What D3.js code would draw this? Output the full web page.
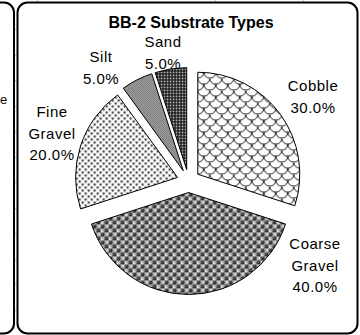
<!DOCTYPE html>
<html>
<head>
<meta charset="utf-8">
<script src="https://cdn.jsdelivr.net/npm/d3@7"></script>
<style>
  html, body { margin: 0; padding: 0; background: #fff; }
  svg { display: block; font-family: "Liberation Sans", Arial, sans-serif; }
</style>
</head>
<body>
<svg id="chart" width="360" height="335"></svg>
<script>
// Substrate composition, clockwise from 12 o'clock
const categories = ["Cobble", "Coarse Gravel", "Fine Gravel", "Silt", "Sand"];
const percents = [30, 40, 20, 5, 5];
const titleText = "BB-2 Substrate Types";

const svg = d3.select("#chart");

// ---- fill patterns for each slice ----
const defs = svg.append("defs");

// fish-scale shingles (cobble)
const pShingle = defs.append("pattern").attr("id", "p-shingle")
  .attr("patternUnits", "userSpaceOnUse").attr("width", 12).attr("height", 12);
pShingle.append("rect").attr("width", 12).attr("height", 12).attr("fill", "#fff");
pShingle.append("path")
  .attr("d", "M0,0 A6,6 0 0 0 12,0 M-6,6 A6,6 0 0 0 6,6 M6,6 A6,6 0 0 0 18,6 M0,12 A6,6 0 0 0 12,12")
  .attr("fill", "none").attr("stroke", "#111").attr("stroke-width", 1);

// spheres (coarse gravel)
const pSphere = defs.append("pattern").attr("id", "p-sphere")
  .attr("patternUnits", "userSpaceOnUse").attr("width", 8).attr("height", 8);
pSphere.append("rect").attr("width", 8).attr("height", 8).attr("fill", "#fafafa");
[[6, 2], [2, 6]].forEach(([x, y]) => {
  pSphere.append("rect").attr("x", x - 1.5).attr("y", y - 1.5).attr("width", 3).attr("height", 3).attr("fill", "#c4c4c4");
});
[[2, 2], [6, 6]].forEach(([x, y]) => {
  pSphere.append("circle").attr("cx", x).attr("cy", y).attr("r", 2.5).attr("fill", "#363636");
  pSphere.append("circle").attr("cx", x - 0.8).attr("cy", y - 0.8).attr("r", 0.8).attr("fill", "#8a8a8a");
});

// dotted grid (fine gravel)
const pDots = defs.append("pattern").attr("id", "p-dots")
  .attr("patternUnits", "userSpaceOnUse").attr("width", 6).attr("height", 6);
pDots.append("rect").attr("width", 6).attr("height", 6).attr("fill", "#fff");
pDots.append("rect").attr("x", 0).attr("y", 0).attr("width", 2.2).attr("height", 2.2).attr("fill", "#444");
pDots.append("rect").attr("x", 3).attr("y", 3).attr("width", 2.2).attr("height", 2.2).attr("fill", "#444");

// fine 50% gray (silt)
const pGray = defs.append("pattern").attr("id", "p-gray")
  .attr("patternUnits", "userSpaceOnUse").attr("width", 2).attr("height", 2);
pGray.append("rect").attr("width", 2).attr("height", 2).attr("fill", "#c8c8c8");
pGray.append("rect").attr("width", 1).attr("height", 1).attr("fill", "#555");
pGray.append("rect").attr("x", 1).attr("y", 1).attr("width", 1).attr("height", 1).attr("fill", "#555");

// small checker (sand)
const pCheck = defs.append("pattern").attr("id", "p-check")
  .attr("patternUnits", "userSpaceOnUse").attr("width", 3).attr("height", 3);
pCheck.append("rect").attr("width", 3).attr("height", 3).attr("fill", "#111");
pCheck.append("rect").attr("x", 1).attr("y", 1).attr("width", 1.5).attr("height", 1.5).attr("fill", "#fff");

const fills = ["url(#p-shingle)", "url(#p-sphere)", "url(#p-dots)", "url(#p-gray)", "url(#p-check)"];

// ---- spreadsheet backdrop between chart objects ----
const grid = svg.append("g").attr("stroke", "#c8c8c8").attr("stroke-width", 1);
d3.range(29, 330, 25.5).forEach(y => {
  grid.append("line").attr("x1", 13).attr("x2", 17).attr("y1", Math.round(y) + 0.5).attr("y2", Math.round(y) + 0.5);
});
[37.5, 215.5, 303.5].forEach(x => {
  grid.append("line").attr("x1", x).attr("x2", x).attr("y1", 0).attr("y2", 2);
});

// neighbouring chart's edge
svg.append("rect")
  .attr("x", -60).attr("y", 2.5).attr("width", 74).attr("height", 331)
  .attr("rx", 10).attr("fill", "#fff").attr("stroke", "#000").attr("stroke-width", 2);
svg.append("text").attr("x", 0).attr("y", 104).attr("text-anchor", "start")
  .attr("font-size", 13).text("e");

// ---- chart frame ----
svg.append("rect")
  .attr("x", 17.5).attr("y", 2.5).attr("width", 340).attr("height", 331)
  .attr("rx", 10).attr("fill", "#fff").attr("stroke", "#000").attr("stroke-width", 2);

// title
svg.append("text")
  .attr("x", 191).attr("y", 28)
  .attr("text-anchor", "middle")
  .attr("font-size", 16).attr("font-weight", "bold")
  .text(titleText);

// ---- exploded pie ----
const cx = 188.5, cy = 181, radius = 102, explode = 11.5;

const pie = d3.pie().sort(null).value(d => d);
const arcs = pie(percents);
const arc = d3.arc().innerRadius(0).outerRadius(radius);

const pieG = svg.append("g").attr("transform", `translate(${cx},${cy})`);
pieG.selectAll("path")
  .data(arcs)
  .join("path")
  .attr("transform", d => {
    const mid = (d.startAngle + d.endAngle) / 2;
    return `translate(${explode * Math.sin(mid)},${-explode * Math.cos(mid)})`;
  })
  .attr("d", arc)
  .attr("fill", (d, i) => fills[i])
  .attr("stroke", "#000")
  .attr("stroke-width", 1)
  .attr("stroke-linejoin", "miter");

// ---- data labels (category + percentage) ----
const labelLines = {
  "Cobble": ["Cobble"],
  "Coarse Gravel": ["Coarse", "Gravel"],
  "Fine Gravel": ["Fine", "Gravel"],
  "Silt": ["Silt"],
  "Sand": ["Sand"]
};
// first-line baseline of each label block, relative to pie centre
const labelAnchor = {
  "Cobble": [124.5, -90],
  "Coarse Gravel": [126.5, 68],
  "Fine Gravel": [-136.5, -64],
  "Silt": [-87.5, -119],
  "Sand": [-25.5, -134]
};
const lineGap = 21.5;

categories.forEach((c, i) => {
  const lines = labelLines[c].concat([percents[i].toFixed(1) + "%"]);
  const [dx, dy] = labelAnchor[c];
  const t = svg.append("text")
    .attr("text-anchor", "middle")
    .attr("font-size", 15)
    .attr("letter-spacing", 0.5)
    .attr("fill", "#000");
  lines.forEach((ln, k) => {
    t.append("tspan").attr("x", cx + dx).attr("y", cy + dy + k * lineGap).text(ln);
  });
});
</script>
</body>
</html>
